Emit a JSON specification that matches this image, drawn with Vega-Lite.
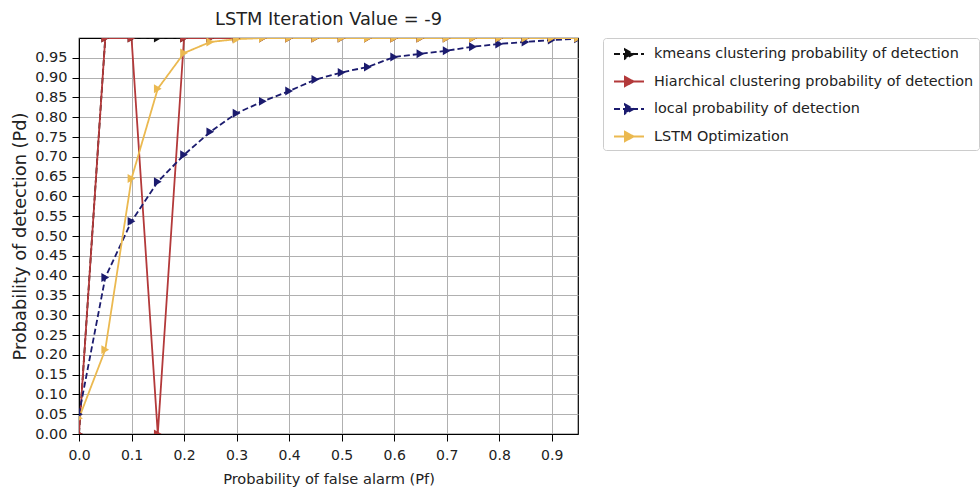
{
  "$schema": "https://vega.github.io/schema/vega-lite/v6.json",
  "autosize": "none",
  "width": 499,
  "height": 396,
  "padding": {"left": 79, "top": 38, "right": 402, "bottom": 60},
  "background": "white",
  "config": {
    "font": "DejaVu Sans",
    "view": {"stroke": "black", "strokeWidth": 1.2},
    "axis": {
      "labelFont": "DejaVu Sans",
      "titleFont": "DejaVu Sans",
      "labelFontSize": 14.5,
      "titleFontSize": 14.6,
      "titleFontWeight": "normal",
      "labelColor": "#222",
      "titleColor": "#222",
      "domainColor": "black",
      "tickColor": "black",
      "tickSize": 7,
      "labelPadding": 6,
      "labelFlush": false,
      "gridColor": "#b0b0b0",
      "gridWidth": 1,
      "gridOpacity": 1
    }
  },
  "title": {
    "text": "LSTM Iteration Value = -9",
    "fontSize": 17.8,
    "fontWeight": "normal",
    "font": "DejaVu Sans",
    "color": "#222",
    "anchor": "middle",
    "offset": 9
  },
  "data": {
    "values": [
      {"series": "kmeans clustering probability of detection", "x": 0.0, "y": 0.0},
      {"series": "kmeans clustering probability of detection", "x": 0.05, "y": 1.0},
      {"series": "kmeans clustering probability of detection", "x": 0.1, "y": 1.0},
      {"series": "kmeans clustering probability of detection", "x": 0.15, "y": 1.0},
      {"series": "kmeans clustering probability of detection", "x": 0.2, "y": 1.0},
      {"series": "kmeans clustering probability of detection", "x": 0.25, "y": 1.0},
      {"series": "kmeans clustering probability of detection", "x": 0.3, "y": 1.0},
      {"series": "kmeans clustering probability of detection", "x": 0.35, "y": 1.0},
      {"series": "kmeans clustering probability of detection", "x": 0.4, "y": 1.0},
      {"series": "kmeans clustering probability of detection", "x": 0.45, "y": 1.0},
      {"series": "kmeans clustering probability of detection", "x": 0.5, "y": 1.0},
      {"series": "kmeans clustering probability of detection", "x": 0.55, "y": 1.0},
      {"series": "kmeans clustering probability of detection", "x": 0.6, "y": 1.0},
      {"series": "kmeans clustering probability of detection", "x": 0.65, "y": 1.0},
      {"series": "kmeans clustering probability of detection", "x": 0.7, "y": 1.0},
      {"series": "kmeans clustering probability of detection", "x": 0.75, "y": 1.0},
      {"series": "kmeans clustering probability of detection", "x": 0.8, "y": 1.0},
      {"series": "kmeans clustering probability of detection", "x": 0.85, "y": 1.0},
      {"series": "kmeans clustering probability of detection", "x": 0.9, "y": 1.0},
      {"series": "kmeans clustering probability of detection", "x": 0.95, "y": 1.0},
      {"series": "Hiarchical clustering probability of detection", "x": 0.0, "y": 0.0},
      {"series": "Hiarchical clustering probability of detection", "x": 0.05, "y": 1.0},
      {"series": "Hiarchical clustering probability of detection", "x": 0.1, "y": 1.0},
      {"series": "Hiarchical clustering probability of detection", "x": 0.15, "y": 0.0},
      {"series": "Hiarchical clustering probability of detection", "x": 0.2, "y": 1.0},
      {"series": "Hiarchical clustering probability of detection", "x": 0.25, "y": 1.0},
      {"series": "Hiarchical clustering probability of detection", "x": 0.3, "y": 1.0},
      {"series": "Hiarchical clustering probability of detection", "x": 0.35, "y": 1.0},
      {"series": "Hiarchical clustering probability of detection", "x": 0.4, "y": 1.0},
      {"series": "Hiarchical clustering probability of detection", "x": 0.45, "y": 1.0},
      {"series": "Hiarchical clustering probability of detection", "x": 0.5, "y": 1.0},
      {"series": "Hiarchical clustering probability of detection", "x": 0.55, "y": 1.0},
      {"series": "Hiarchical clustering probability of detection", "x": 0.6, "y": 1.0},
      {"series": "Hiarchical clustering probability of detection", "x": 0.65, "y": 1.0},
      {"series": "Hiarchical clustering probability of detection", "x": 0.7, "y": 1.0},
      {"series": "Hiarchical clustering probability of detection", "x": 0.75, "y": 1.0},
      {"series": "Hiarchical clustering probability of detection", "x": 0.8, "y": 1.0},
      {"series": "Hiarchical clustering probability of detection", "x": 0.85, "y": 1.0},
      {"series": "Hiarchical clustering probability of detection", "x": 0.9, "y": 1.0},
      {"series": "Hiarchical clustering probability of detection", "x": 0.95, "y": 1.0},
      {"series": "local probability of detection", "x": 0.0, "y": 0.05},
      {"series": "local probability of detection", "x": 0.05, "y": 0.395},
      {"series": "local probability of detection", "x": 0.1, "y": 0.537},
      {"series": "local probability of detection", "x": 0.15, "y": 0.637},
      {"series": "local probability of detection", "x": 0.2, "y": 0.705},
      {"series": "local probability of detection", "x": 0.25, "y": 0.763},
      {"series": "local probability of detection", "x": 0.3, "y": 0.81},
      {"series": "local probability of detection", "x": 0.35, "y": 0.84},
      {"series": "local probability of detection", "x": 0.4, "y": 0.866},
      {"series": "local probability of detection", "x": 0.45, "y": 0.895},
      {"series": "local probability of detection", "x": 0.5, "y": 0.913},
      {"series": "local probability of detection", "x": 0.55, "y": 0.927},
      {"series": "local probability of detection", "x": 0.6, "y": 0.952},
      {"series": "local probability of detection", "x": 0.65, "y": 0.96},
      {"series": "local probability of detection", "x": 0.7, "y": 0.968},
      {"series": "local probability of detection", "x": 0.75, "y": 0.978},
      {"series": "local probability of detection", "x": 0.8, "y": 0.985},
      {"series": "local probability of detection", "x": 0.85, "y": 0.99},
      {"series": "local probability of detection", "x": 0.9, "y": 0.995},
      {"series": "local probability of detection", "x": 0.95, "y": 0.998},
      {"series": "LSTM Optimization", "x": 0.0, "y": 0.04},
      {"series": "LSTM Optimization", "x": 0.05, "y": 0.213},
      {"series": "LSTM Optimization", "x": 0.1, "y": 0.645},
      {"series": "LSTM Optimization", "x": 0.15, "y": 0.872},
      {"series": "LSTM Optimization", "x": 0.2, "y": 0.962},
      {"series": "LSTM Optimization", "x": 0.25, "y": 0.99},
      {"series": "LSTM Optimization", "x": 0.3, "y": 0.997},
      {"series": "LSTM Optimization", "x": 0.35, "y": 1.0},
      {"series": "LSTM Optimization", "x": 0.4, "y": 1.0},
      {"series": "LSTM Optimization", "x": 0.45, "y": 1.0},
      {"series": "LSTM Optimization", "x": 0.5, "y": 1.0},
      {"series": "LSTM Optimization", "x": 0.55, "y": 1.0},
      {"series": "LSTM Optimization", "x": 0.6, "y": 1.0},
      {"series": "LSTM Optimization", "x": 0.65, "y": 1.0},
      {"series": "LSTM Optimization", "x": 0.7, "y": 1.0},
      {"series": "LSTM Optimization", "x": 0.75, "y": 1.0},
      {"series": "LSTM Optimization", "x": 0.8, "y": 1.0},
      {"series": "LSTM Optimization", "x": 0.85, "y": 1.0},
      {"series": "LSTM Optimization", "x": 0.9, "y": 1.0},
      {"series": "LSTM Optimization", "x": 0.95, "y": 1.0}
    ]
  },
  "encoding": {
    "x": {
      "field": "x", "type": "quantitative",
      "scale": {"domain": [0, 0.95], "nice": false, "zero": false},
      "axis": {
        "title": "Probability of false alarm (Pf)",
        "values": [0, 0.1, 0.2, 0.3, 0.4, 0.5, 0.6, 0.7, 0.8, 0.9],
        "format": ".1f",
        "grid": true,
        "labelFontSize": 14,
        "labelPadding": 7,
        "titlePadding": 9
      }
    },
    "y": {
      "field": "y", "type": "quantitative",
      "scale": {"domain": [0, 1], "nice": false},
      "axis": {
        "title": "Probability of detection (Pd)",
        "titleFontSize": 17.8,
        "values": [0, 0.05, 0.1, 0.15, 0.2, 0.25, 0.3, 0.35, 0.4, 0.45, 0.5, 0.55, 0.6, 0.65, 0.7, 0.75, 0.8, 0.85, 0.9, 0.95],
        "format": ".2f",
        "grid": true,
        "labelPadding": 5,
        "titlePadding": 5
      }
    },
    "color": {
      "field": "series", "type": "nominal",
      "scale": {
        "domain": ["kmeans clustering probability of detection", "Hiarchical clustering probability of detection", "local probability of detection", "LSTM Optimization"],
        "range": ["#111111", "#b3393a", "#1b1b6e", "#ebb950"]
      },
      "legend": {
        "title": null,
        "orient": "none",
        "legendX": 524,
        "legendY": 0,
        "labelFont": "DejaVu Sans",
        "labelFontSize": 14.4,
        "labelColor": "#222",
        "symbolType": "M-0.5,0H2.5M0.6,-0.45L1.45,0L0.6,0.45Z",
        "symbolSize": 400,
        "symbolStrokeWidth": 2,
        "rowPadding": 7.5,
        "labelOffset": 24,
        "padding": 5,
        "strokeColor": "#cccccc",
        "fillColor": "white",
        "cornerRadius": 3,
        "labelLimit": 400
      }
    }
  },
  "layer": [
    {
      "mark": {"type": "line", "strokeWidth": 1.8, "clip": true},
      "encoding": {
        "strokeDash": {
          "field": "series", "type": "nominal",
          "scale": {
            "domain": ["kmeans clustering probability of detection", "Hiarchical clustering probability of detection", "local probability of detection", "LSTM Optimization"],
            "range": [[6, 3], [1, 0], [6, 3], [1, 0]]
          },
          "legend": null
        },
        "order": {"field": "x", "type": "quantitative"}
      }
    },
    {
      "mark": {"type": "point", "shape": "triangle-right", "filled": true, "size": 80, "opacity": 1, "clip": true},
      "encoding": {}
    }
  ]
}
